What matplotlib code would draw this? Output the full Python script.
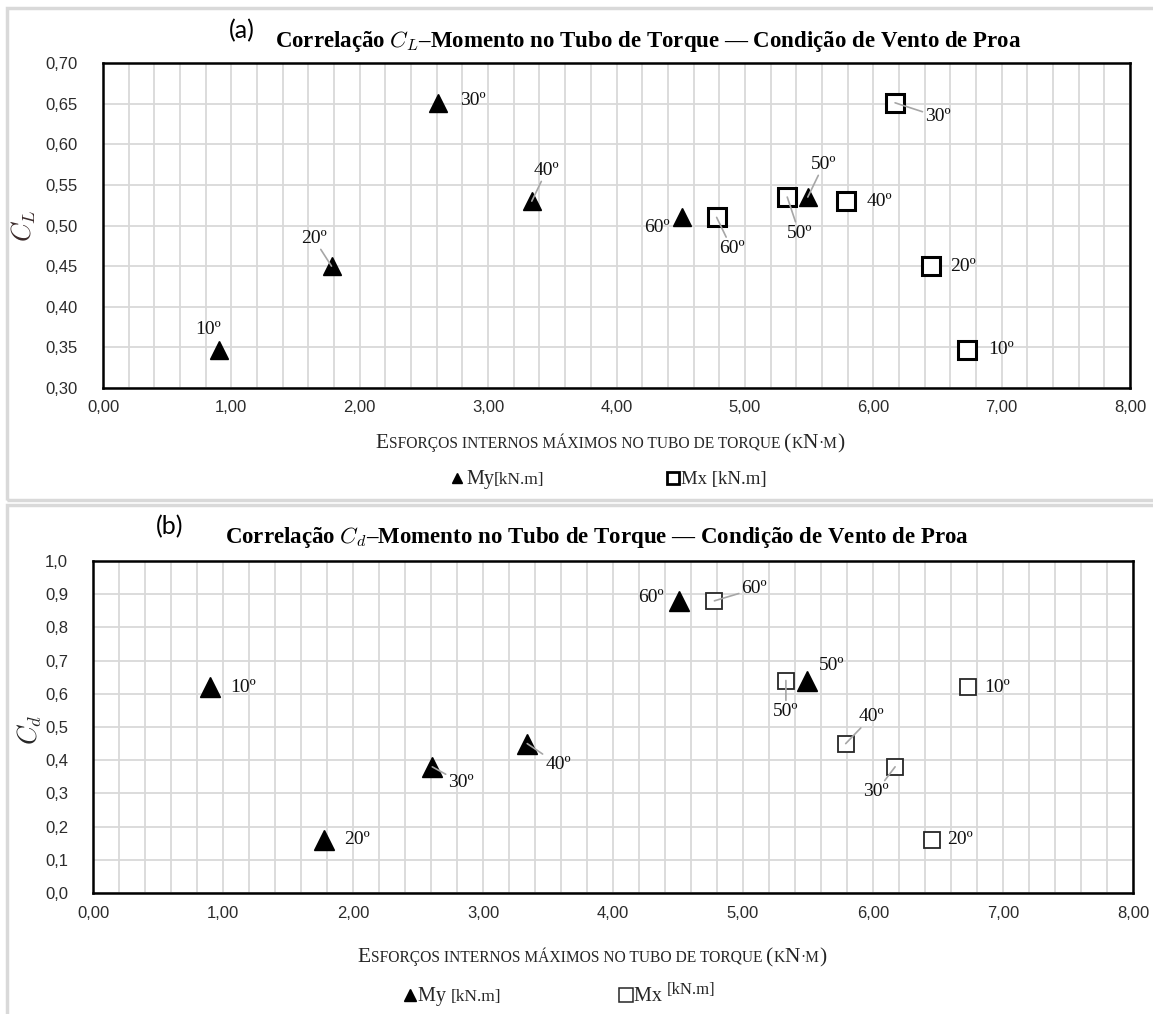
import matplotlib.pyplot as plt
from matplotlib.lines import Line2D
from matplotlib.patches import Rectangle
from matplotlib.ticker import MultipleLocator, FuncFormatter

plt.rcParams["mathtext.fontset"] = "cm"

# data
angles = ["10º", "20º", "30º", "40º", "50º", "60º"]
my_moment = [0.90, 1.78, 2.61, 3.34, 5.49, 4.51]   # kN.m
mx_moment = [6.73, 6.45, 6.17, 5.79, 5.33, 4.78]   # kN.m
cl = [0.347, 0.45, 0.651, 0.53, 0.535, 0.51]
cd = [0.62, 0.16, 0.38, 0.45, 0.64, 0.88]

# label offsets in pixels (dx, dy, leader line)
a_my_off = [(-10, 20, False), (-18, 28, True), (35, 2, False),
            (15, 31, True), (16, 33, True), (-25, -10, False)]
a_mx_off = [(34, 0, False), (32, 0, False), (43, -14, True),
            (33, 0, False), (12, -36, True), (15, -31, True)]
b_my_off = [(33, 0, False), (33, 0, False), (29, -16, True),
            (31, -21, True), (25, 15, False), (-28, 3, False)]
b_mx_off = [(29, 0, False), (29, 0, False), (-19, -25, True),
            (26, 27, True), (0, -31, True), (40, 12, True)]

W, H = 1153, 1014
SERIF = "Liberation Serif"
NARROW = ["Liberation Sans Narrow", "Liberation Sans"]
GRAY = "#262626"

fig = plt.figure(figsize=(W / 100, H / 100), dpi=100)
renderer = fig.canvas.get_renderer()


def fx(px):
    return px / W


def fy(py):
    return 1 - py / H


def run_width(text, size):
    # width including spaces, measured between two bars
    t1 = fig.text(0, 0, "|" + text + "|", fontsize=size, family=SERIF)
    t2 = fig.text(0, 0, "||", fontsize=size, family=SERIF)
    w = t1.get_window_extent(renderer).width - t2.get_window_extent(renderer).width
    t1.remove()
    t2.remove()
    return w


def draw_runs(x_px, y_base, runs, center=False):
    widths = [run_width(t, s) for t, s, _ in runs]
    x = x_px - sum(widths) / 2 if center else x_px
    for (t, s, dy), w in zip(runs, widths):
        fig.text(fx(x), fy(y_base - dy), t, fontsize=s, family=SERIF,
                 color=GRAY, ha="left", va="baseline")
        x += w


def small_caps(text, big, small):
    runs = []
    for ch in text:
        size = small if (ch.islower() or ch in " ·") else big
        c = ch.upper()
        if runs and runs[-1][1] == size:
            runs[-1] = (runs[-1][0] + c, size, 0)
        else:
            runs.append((c, size, 0))
    return runs


def label_points(ax, xs, ys, offsets):
    for x, y, lab, (dx, dy, lead) in zip(xs, ys, angles, offsets):
        arrow = None
        if lead:
            arrow = dict(arrowstyle="-", color="#a6a6a6", lw=1.2,
                         shrinkA=0, shrinkB=0)
        ax.annotate(lab, (x, y), xytext=(dx, dy), textcoords="offset pixels",
                    ha="center", va="center", fontsize=14, family=SERIF,
                    color="#111111", arrowprops=arrow)


def style_axes(ax, ymin, ymax, ystep, ydec):
    ax.set_xlim(0, 8)
    ax.set_ylim(ymin, ymax)
    ax.xaxis.set_major_locator(MultipleLocator(1))
    ax.xaxis.set_minor_locator(MultipleLocator(0.2))
    ax.yaxis.set_major_locator(MultipleLocator(ystep))
    ax.xaxis.set_major_formatter(FuncFormatter(lambda v, _: f"{v:.2f}".replace(".", ",")))
    ax.yaxis.set_major_formatter(FuncFormatter(lambda v, _: f"{v:.{ydec}f}".replace(".", ",")))
    ax.grid(which="both", color="#d9d9d9", lw=1.3, zorder=0)
    ax.set_axisbelow(True)
    ax.tick_params(which="both", length=0, labelsize=12, labelcolor="#2b2b2b")
    ax.tick_params(axis="y", pad=18)
    ax.tick_params(axis="x", pad=9)
    for lab in ax.get_xticklabels() + ax.get_yticklabels():
        lab.set_family(NARROW)
    for sp in ax.spines.values():
        sp.set_color("black")
        sp.set_linewidth(1.8)


# chart area frames
fig.patches.append(Rectangle((fx(7), fy(500)), fx(1165) - fx(7), fy(8) - fy(500),
                             transform=fig.transFigure, fill=False,
                             edgecolor="#d9d9d9", lw=2.5))
fig.patches.append(Rectangle((fx(7), fy(1020)), fx(1165) - fx(7), fy(505) - fy(1020),
                             transform=fig.transFigure, fill=False,
                             edgecolor="#d9d9d9", lw=2.5))

# ---- panel (a)
ax1 = fig.add_axes([fx(103), fy(388), fx(1130) - fx(103), fy(63) - fy(388)])
style_axes(ax1, 0.30, 0.70, 0.05, 2)
ax1.plot(my_moment, cl, ls="none", marker="^", ms=13, color="black", zorder=3)
ax1.plot(mx_moment, cl, ls="none", marker="s", ms=13, mfc="white",
         mec="black", mew=2.2, zorder=3)
label_points(ax1, my_moment, cl, a_my_off)
label_points(ax1, mx_moment, cl, a_mx_off)

fig.text(fx(242), fy(31), "(a)", fontsize=18, family="Lato", ha="center", va="center")
fig.text(fx(648), fy(42),
         "Correlação $C_L$–Momento no Tubo de Torque — Condição de Vento de Proa",
         fontsize=16.5, family=SERIF, weight="bold", ha="center", va="center")
fig.text(fx(24), fy(226), "$C_L$", fontsize=19, rotation=90, ha="center",
         va="center", color="#3a2a2a")

draw_runs(610, 448, small_caps("Esforços internos máximos no tubo de torque (kN·m)", 15.5, 11.2),
          center=True)

fig.add_artist(Line2D([fx(457)], [fy(478)], transform=fig.transFigure,
                      marker="^", ms=6.5, color="black", ls="none"))
draw_runs(466, 484, [("My", 14.5, 0), ("[kN.m]", 12.5, 0)])
fig.add_artist(Line2D([fx(673)], [fy(478)], transform=fig.transFigure,
                      marker="s", ms=8, mfc="white", mec="black", mew=2, ls="none"))
draw_runs(681, 484, [("Mx [kN.m]", 13.5, 0)])

# ---- panel (b)
ax2 = fig.add_axes([fx(93), fy(893), fx(1133) - fx(93), fy(561) - fy(893)])
style_axes(ax2, 0.0, 1.0, 0.1, 1)
ax2.plot(my_moment, cd, ls="none", marker="^", ms=14, color="black", zorder=3)
ax2.plot(mx_moment, cd, ls="none", marker="s", ms=11.5, mfc="white",
         mec="#262626", mew=1.3, zorder=3)
label_points(ax2, my_moment, cd, b_my_off)
label_points(ax2, mx_moment, cd, b_mx_off)

fig.text(fx(170), fy(527), "(b)", fontsize=18, family="Lato", ha="center", va="center")
fig.text(fx(597), fy(538),
         "Correlação $C_d$–Momento no Tubo de Torque — Condição de Vento de Proa",
         fontsize=16.5, family=SERIF, weight="bold", ha="center", va="center")
fig.text(fx(30), fy(730), "$C_d$", fontsize=19, rotation=90, ha="center",
         va="center", color="#262626")

draw_runs(592, 962, small_caps("Esforços internos máximos no tubo de torque (kN·m)", 15.5, 11.2),
          center=True)

fig.add_artist(Line2D([fx(410)], [fy(995)], transform=fig.transFigure,
                      marker="^", ms=9, color="black", ls="none"))
draw_runs(418, 1001, [("My ", 14.5, 0), ("[kN.m]", 12.5, 0)])
fig.add_artist(Line2D([fx(626)], [fy(995)], transform=fig.transFigure,
                      marker="s", ms=9.5, mfc="white", mec="#262626", mew=1.1, ls="none"))
draw_runs(634, 1001, [("Mx ", 14.5, 0), ("[kN.m]", 12, 7)])

fig.savefig("out.png", dpi=100)
